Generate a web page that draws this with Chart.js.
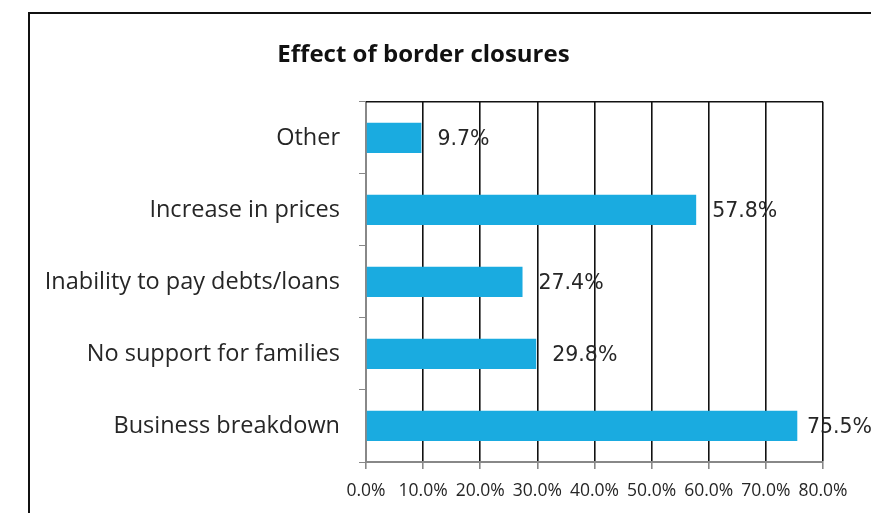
<!DOCTYPE html>
<html>
<head>
<meta charset="utf-8">
<title>Effect of border closures</title>
<script src="https://cdn.jsdelivr.net/npm/chart.js@4.4.1/dist/chart.umd.min.js"></script>
<style>
  html, body { margin: 0; padding: 0; background: #fff; overflow: hidden; }
  canvas { display: block; }
</style>
</head>
<body>
<canvas id="closures" width="871" height="513"></canvas>
<script>
// ---- Data ----
const categories = [
  'Other',
  'Increase in prices',
  'Inability to pay debts/loans',
  'No support for families',
  'Business breakdown'
];
const shares = [9.7, 57.8, 27.4, 29.8, 75.5];
const xTicks = [0, 10, 20, 30, 40, 50, 60, 70, 80];

const BAR_BLUE = '#1aabe0';
const TEXT_DARK = '#262626';

// outer frame + plot-area top edge
const framePlugin = {
  id: 'frame',
  afterDraw(chart) {
    const { ctx, chartArea } = chart;
    ctx.save();
    ctx.strokeStyle = '#111';
    ctx.lineWidth = 2;
    ctx.beginPath();
    ctx.moveTo(29, 513);
    ctx.lineTo(29, 13);
    ctx.lineTo(871, 13);
    ctx.stroke();

    ctx.lineWidth = 1.6;
    ctx.beginPath();
    ctx.moveTo(chartArea.left, chartArea.top);
    ctx.lineTo(chartArea.right, chartArea.top);
    ctx.stroke();
    ctx.restore();
  }
};

// value labels just past the end of each bar
const valueLabels = {
  id: 'valueLabels',
  afterDatasetsDraw(chart) {
    const { ctx } = chart;
    const meta = chart.getDatasetMeta(0);
    ctx.save();
    ctx.font = '20.5px "DejaVu Sans"';
    ctx.fillStyle = TEXT_DARK;
    ctx.textBaseline = 'middle';
    meta.data.forEach((bar, i) => {
      const txt = shares[i].toFixed(1) + '%';
      const w = ctx.measureText(txt).width;
      let x = bar.x + 16;
      if (x + w > chart.width) x = chart.width - w + 1;
      ctx.fillText(txt, x, bar.y + 2);
    });
    ctx.restore();
  }
};

new Chart(document.getElementById('closures'), {
  type: 'bar',
  data: {
    labels: categories,
    datasets: [{
      data: shares,
      backgroundColor: BAR_BLUE,
      borderWidth: 0,
      barPercentage: 0.42,
      categoryPercentage: 1
    }]
  },
  options: {
    indexAxis: 'y',
    responsive: false,
    animation: false,
    devicePixelRatio: 1,
    layout: { padding: { left: 24, right: 48, top: 0, bottom: 0 } },
    plugins: {
      legend: { display: false },
      tooltip: { enabled: false },
      title: {
        display: true,
        text: 'Effect of border closures',
        color: '#111',
        font: { family: '"Open Sans"', size: 24, weight: 'bold', lineHeight: 1.2 },
        padding: { top: 41, bottom: 32 }
      }
    },
    scales: {
      x: {
        min: 0,
        max: 80,
        afterBuildTicks(scale) {
          scale.ticks = xTicks.map(v => ({ value: v }));
        },
        afterFit(scale) { scale.height = 51; },
        ticks: {
          color: TEXT_DARK,
          font: { family: '"Open Sans"', size: 17.5 },
          padding: 12,
          maxRotation: 0,
          autoSkip: false,
          callback: v => v.toFixed(1) + '%'
        },
        grid: {
          color: ctx => ctx.index === 0 ? 'rgba(0,0,0,0)' : '#111',
          lineWidth: 1.6,
          tickColor: '#888',
          tickLength: 7
        },
        border: { color: '#888', width: 2 }
      },
      y: {
        afterFit(scale) { scale.width = 342; },
        ticks: {
          color: TEXT_DARK,
          font: { family: '"Open Sans"', size: 23.5 },
          padding: 19
        },
        grid: {
          offset: true,
          drawOnChartArea: false,
          color: '#888',
          tickLength: 7
        },
        border: { color: '#888', width: 2 }
      }
    }
  },
  plugins: [framePlugin, valueLabels]
});
</script>
</body>
</html>
